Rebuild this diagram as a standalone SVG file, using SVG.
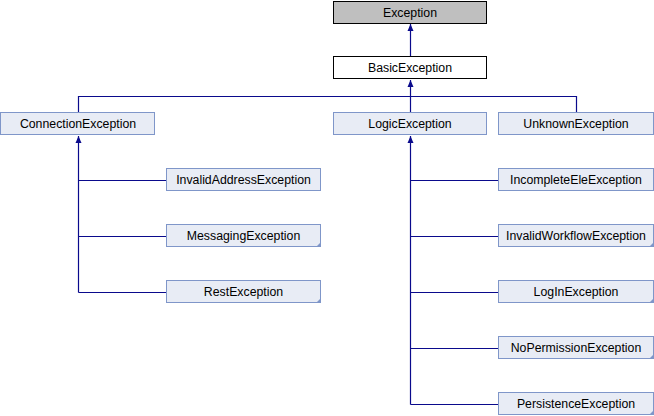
<svg xmlns="http://www.w3.org/2000/svg" width="654" height="416" viewBox="0 0 654 416">
<style>
.n rect{fill:#e8ecf5;stroke:#7f96c9;stroke-width:1}
.root rect{fill:#bfbfbf;stroke:#000;stroke-width:1}
.basic rect{fill:#fff;stroke:#000;stroke-width:1}
text{font-family:"Liberation Sans",Arial,sans-serif;font-size:12.3px;fill:#000;text-anchor:middle}
.e{fill:none;stroke:#0a0a8c;stroke-width:1.2}
.tri{fill:#7f96c9}
</style>
<defs>
<marker id="ah" markerWidth="8" markerHeight="8" refX="7" refY="3.5" orient="auto" markerUnits="userSpaceOnUse" viewBox="0 0 8 8">
<path d="M0,0.5 L7,3.5 L0,6.5 Z" fill="#0a0a8c"/>
</marker>
</defs>
<g id="edges">
<path class="e" d="M410.5,56 V24" marker-end="url(#ah)"/>
<path class="e" d="M410.5,112 V80" marker-end="url(#ah)"/>
<path class="e" d="M78.5,112 V96.5 H576.5 V112"/>
<path class="e" d="M78.5,292.5 V136" marker-end="url(#ah)"/>
<path class="e" d="M78.5,180.5 H166 M78.5,236.5 H166 M78.5,292.5 H166"/>
<path class="e" d="M410.5,404.5 V136" marker-end="url(#ah)"/>
<path class="e" d="M410.5,180.5 H498 M410.5,236.5 H498 M410.5,292.5 H498 M410.5,348.5 H498 M410.5,404.5 H498"/>
</g>
<g id="Exception" class="root"><rect x="333.5" y="1.5" width="153" height="22"/><text x="410" y="17">Exception</text></g>
<g id="BasicException" class="basic"><rect x="333.5" y="56.5" width="153" height="22"/><text x="410" y="72">BasicException</text></g>
<g id="ConnectionException" class="n"><rect x="0.5" y="112.5" width="154" height="22"/><text x="78" y="128">ConnectionException</text></g>
<g id="LogicException" class="n"><rect x="333.5" y="112.5" width="153" height="22"/><text x="410" y="128">LogicException</text></g>
<g id="UnknownException" class="n"><rect x="498.5" y="112.5" width="155" height="22"/><text x="576" y="128">UnknownException</text></g>
<g id="InvalidAddressException" class="n"><rect x="166.5" y="168.5" width="154" height="22"/><text x="243.5" y="184">InvalidAddressException</text></g>
<g id="MessagingException" class="n"><rect x="166.5" y="224.5" width="154" height="22"/><text x="243.5" y="240">MessagingException</text><path class="tri" d="M321,242 V247 H316 Z"/></g>
<g id="RestException" class="n"><rect x="166.5" y="280.5" width="154" height="22"/><text x="243.5" y="296">RestException</text><path class="tri" d="M321,298 V303 H316 Z"/></g>
<g id="IncompleteEleException" class="n"><rect x="498.5" y="168.5" width="155" height="22"/><text x="576" y="184">IncompleteEleException</text></g>
<g id="InvalidWorkflowException" class="n"><rect x="498.5" y="224.5" width="155" height="22"/><text x="576" y="240">InvalidWorkflowException</text><path class="tri" d="M654,242 V247 H649 Z"/></g>
<g id="LogInException" class="n"><rect x="498.5" y="280.5" width="155" height="22"/><text x="576" y="296">LogInException</text><path class="tri" d="M654,298 V303 H649 Z"/></g>
<g id="NoPermissionException" class="n"><rect x="498.5" y="336.5" width="155" height="22"/><text x="576" y="352">NoPermissionException</text><path class="tri" d="M654,354 V359 H649 Z"/></g>
<g id="PersistenceException" class="n"><rect x="498.5" y="392.5" width="155" height="22"/><text x="576" y="408">PersistenceException</text><path class="tri" d="M654,410 V415 H649 Z"/></g>
</svg>
